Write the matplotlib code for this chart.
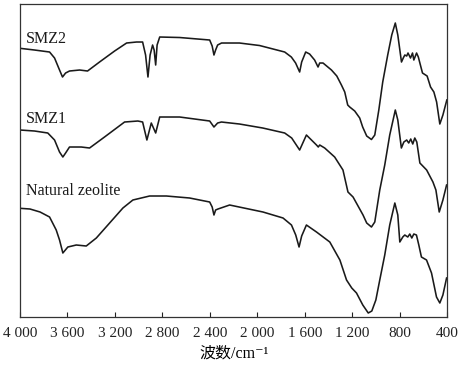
import matplotlib
matplotlib.use("Agg")
import matplotlib.pyplot as plt

# Wavenumber (cm^-1) and relative transmittance (a.u., vertically offset traces)
smz2_wn = [4000, 3878, 3751, 3709, 3667, 3642, 3616, 3583, 3498, 3431, 3330, 3203, 3102, 3018,
           2967, 2942, 2922, 2904, 2883, 2870, 2857, 2845, 2823, 2655, 2402, 2381, 2366, 2352,
           2335, 2302, 2151, 1982, 1770, 1714, 1678, 1644, 1627, 1593, 1560, 1518, 1489, 1475,
           1447, 1376, 1331, 1292, 1264, 1239, 1222, 1180, 1138, 1113, 1079, 1039, 1011, 977,
           944, 902, 868, 838, 817, 786, 771, 758, 742, 731, 710, 693, 682, 659, 644, 631, 609,
           570, 541, 513, 490, 463, 437, 404]
smz2_t = [268.7, 267, 265, 259, 247, 240, 244, 246, 247, 246, 255, 266, 274, 275,
          275, 262, 240, 262, 272, 267, 252, 272, 280, 279.5, 277, 271, 262, 267,
          272, 274, 274, 271.5, 265, 260, 254, 245, 255, 265, 263, 257, 250, 254,
          254, 247, 241, 232, 225, 212, 210, 206, 199, 190, 181, 177.5, 182, 207,
          235, 262, 282, 294, 282, 255, 259, 262, 261, 264, 259, 264, 257, 264, 260, 254, 244,
          241, 230, 225, 215, 193, 202, 217]

smz1_wn = [4000, 3878, 3766, 3709, 3667, 3639, 3616, 3583, 3484, 3414, 3288, 3119, 3007, 2967,
           2931, 2894, 2857, 2823, 2655, 2402, 2366, 2335, 2303, 2151, 1955, 1770, 1711, 1644,
           1587, 1502, 1487, 1475, 1433, 1349, 1279, 1237, 1194, 1110, 1079, 1039, 1011, 969,
           927, 885, 838, 817, 787, 766, 742, 725, 708, 691, 674, 657, 631, 574, 521, 496, 468,
           437, 406]
smz1_t = [187, 186, 184, 177, 165, 160, 164, 170, 170, 169, 180, 195, 196, 195,
          177, 194, 184, 200, 200, 196, 190, 194, 195, 193, 189, 184, 179, 167,
          182, 172, 170, 172, 169, 160, 147, 125, 120, 102, 94, 90, 95, 127,
          152, 182, 207, 197, 169, 175, 177, 174, 178, 173, 179, 175, 154, 147, 135, 127, 105,
          117, 132]

nat_wn = [4000, 3916, 3831, 3751, 3695, 3667, 3639, 3597, 3526, 3442, 3357, 3245, 3133, 3049,
          2908, 2767, 2571, 2402, 2381, 2366, 2352, 2332, 2234, 1953, 1784, 1713, 1677, 1649,
          1627, 1587, 1502, 1390, 1305, 1249, 1205, 1165, 1112, 1066, 1036, 1002, 969, 927,
          885, 842, 817, 800, 775, 758, 733, 716, 699, 682, 660, 640, 618, 575, 533, 491, 463,
          437, 406]
nat_t = [108.7, 108, 105, 100, 87, 77, 64, 70, 72, 71, 79, 94, 109, 117,
         121, 121, 119, 115, 110, 102, 107, 108, 112, 105, 99, 92, 82, 70,
         81, 92, 85, 75, 57, 37, 29, 24, 12, 4, 6, 17, 37, 62,
         92, 114, 102, 75, 80, 82, 80, 83, 79, 83, 82, 72, 60, 57, 44, 20, 14,
         22, 39]

series_labels = ["SMZ2", "SMZ1", "Natural zeolite"]
xticks = [4000, 3600, 3200, 2800, 2400, 2000, 1600, 1200, 800, 400]
xtick_labels = ["4 000", "3 600", "3 200", "2 800", "2 400", "2 000", "1 600", "1 200", "800", "400"]
xlabel = "波数/cm⁻¹"

serif = ["Liberation Serif", "Noto Sans CJK SC", "DejaVu Serif"]
plt.rcParams["font.family"] = serif

fig = plt.figure(figsize=(4.59, 3.65), dpi=100)
ax = fig.add_axes([0.0436, 0.1315, 0.9309, 0.8575])

lc = "#1a1a1a"
for wn, t in [(smz2_wn, smz2_t), (smz1_wn, smz1_t), (nat_wn, nat_t)]:
    ax.plot(wn, t, color=lc, lw=1.15, solid_joinstyle="round")

ax.set_xlim(4000, 400)
ax.set_ylim(0, 313)
ax.set_xticks(xticks)
ax.set_xticklabels(xtick_labels, fontsize=11)
ax.set_yticks([])
ax.tick_params(axis="x", direction="in", length=3.5, width=0.8, pad=7.5, colors="#222222")
for s in ax.spines.values():
    s.set_linewidth(0.9)
    s.set_color("#333333")

ax.set_xlabel(xlabel, fontsize=11.5, labelpad=4, family=serif)

label_pos = [(3950, 274), (3950, 194), (3950, 122)]
for (x, y), lab in zip(label_pos, series_labels):
    ax.text(x, y, lab, fontsize=11.5, color=lc, ha="left", va="baseline")

fig.savefig("out.png", dpi=100)
